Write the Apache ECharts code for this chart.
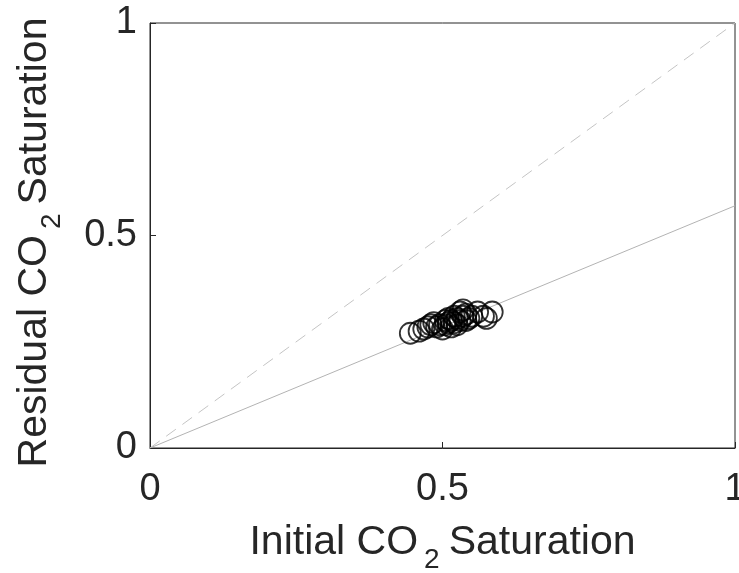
<!DOCTYPE html>
<html>
<head>
<meta charset="utf-8">
<script src="https://cdn.jsdelivr.net/npm/echarts@6/dist/echarts.min.js"></script>
<style>
  html, body { margin: 0; padding: 0; background: #fff; }
  #chart { width: 739px; height: 573px; }
</style>
</head>
<body>
<div id="chart"></div>
<script>
// Initial vs residual CO2 saturation measurements
const initialSat = [0.445, 0.46, 0.468, 0.475, 0.48, 0.485, 0.49, 0.495, 0.50, 0.505, 0.505, 0.51, 0.51, 0.515, 0.515, 0.52, 0.52, 0.525, 0.525, 0.53, 0.53, 0.535, 0.535, 0.54, 0.54, 0.545, 0.55, 0.56, 0.57, 0.575, 0.585];
const residualSat = [0.27, 0.275, 0.28, 0.285, 0.29, 0.295, 0.285, 0.29, 0.28, 0.30, 0.29, 0.305, 0.295, 0.30, 0.285, 0.31, 0.295, 0.305, 0.29, 0.32, 0.30, 0.31, 0.325, 0.30, 0.315, 0.305, 0.31, 0.32, 0.31, 0.305, 0.32];

// Linear trapping fit through the origin, and the 1:1 reference line
const fitX = [0, 1];
const fitY = [0, 0.57];
const oneToOneX = [0, 1];
const oneToOneY = [0, 1];

const tickValues = [0, 0.5, 1];

const pts = initialSat.map((x, i) => [x, residualSat[i]]);
const fitPts = fitX.map((x, i) => [x, fitY[i]]);
const diagPts = oneToOneX.map((x, i) => [x, oneToOneY[i]]);

const font = 'Liberation Sans, Arial, Helvetica, sans-serif';
const ink = '#262626';

const fmt = v => (tickValues.includes(+v.toFixed(2)) ? String(+v.toFixed(2)) : '');

const subStyle = { fontSize: 28, fontFamily: font, color: ink, padding: [34, 9, 0, 6] };

const chart = echarts.init(document.getElementById('chart'), null, { renderer: 'canvas' });
chart.setOption({
  animation: false,
  backgroundColor: '#fff',
  grid: {
    left: 150, right: 4, top: 23, bottom: 125,
    containLabel: false, outerBoundsMode: 'none',
    show: true, borderColor: ink, borderWidth: 1, backgroundColor: '#fff'
  },
  xAxis: {
    type: 'value', min: 0, max: 1, interval: 0.5,
    axisLine: { show: true, lineStyle: { color: ink, width: 1 } },
    axisTick: { show: true, inside: true, length: 6, lineStyle: { color: ink } },
    splitLine: { show: false },
    axisLabel: { color: ink, fontSize: 38, fontFamily: font, margin: 23, formatter: fmt },
    name: 'Initial CO{sub|2}Saturation',
    nameLocation: 'middle',
    nameGap: 64,
    nameTextStyle: { color: ink, fontSize: 41, fontFamily: font, rich: { sub: subStyle } }
  },
  yAxis: {
    type: 'value', min: 0, max: 1, interval: 0.5,
    axisLine: { show: true, lineStyle: { color: ink, width: 1 } },
    axisTick: { show: true, inside: true, length: 6, lineStyle: { color: ink } },
    splitLine: { show: false },
    axisLabel: { color: ink, fontSize: 38, fontFamily: font, margin: 13, formatter: fmt },
    name: 'Residual CO{sub|2}Saturation',
    nameLocation: 'middle',
    nameGap: 84,
    nameTextStyle: { color: ink, fontSize: 41, fontFamily: font, padding: [0, 14, 0, 0], rich: { sub: subStyle } }
  },
  series: [
    {
      type: 'line', data: diagPts, symbol: 'none', silent: true,
      lineStyle: { color: '#c4c4c4', width: 1, type: [12, 8] }, z: 1
    },
    {
      type: 'line', data: fitPts, symbol: 'none', silent: true,
      lineStyle: { color: '#b3b3b3', width: 1 }, z: 2
    },
    {
      type: 'scatter', data: pts, symbol: 'circle', symbolSize: 21,
      itemStyle: { color: 'rgba(0,0,0,0)', borderColor: '#000', borderWidth: 1.8 }, z: 3
    }
  ]
});
</script>
</body>
</html>
